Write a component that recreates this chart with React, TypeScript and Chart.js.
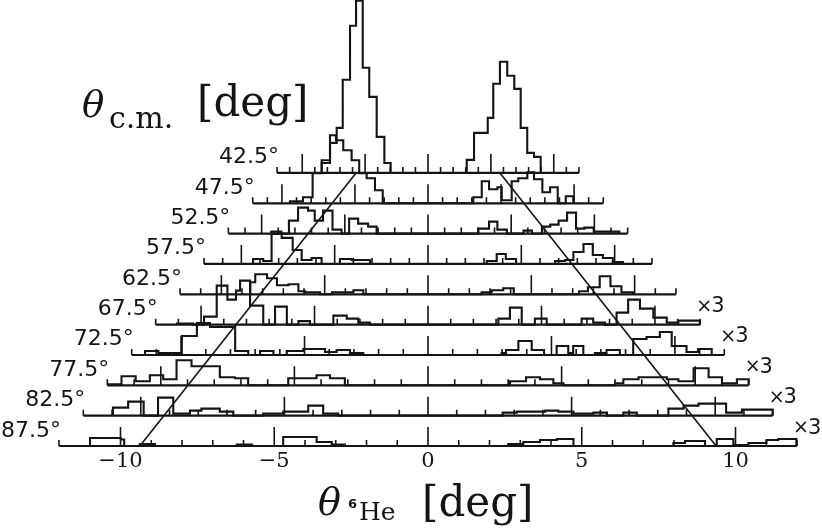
import React, { useEffect, useRef } from "react";
import { Chart, registerables } from "chart.js";

Chart.register(...registerables);

const INK = "#141414";

// Row labels (theta c.m.) from top to bottom
const ROW_LABELS = ["42.5°", "47.5°", "52.5°", "57.5°", "62.5°", "67.5°", "72.5°", "77.5°", "82.5°", "87.5°"];
// horizontal compression of each row relative to the bottom axis
const ROW_SCALE = [0.409, 0.475, 0.541, 0.607, 0.672, 0.738, 0.803, 0.869, 0.934, 1.0];
const ROW_TIMES3 = [false, false, false, false, false, true, true, true, true, true];
const ROW_EXTENT = 12; // each row spans -12..12 deg in its own units
const MAJOR_EVERY = 5;
const X_TICKS = [-10, -5, 0, 5, 10];
// kinematic locus (row-degrees) at the top and bottom rows
const KIN_TOP = 5.72;
const KIN_BOTTOM = 9.37;
const COUNTS_PER_ROW = 30.3;
const Y_MAX = 14.7;
const LONG_TICK = 19;
const SHORT_TICK = 6;

// Histogram bin edges (row-degrees) and counts for each row
const EDGES_425 = [-8.45, -7.79, -7.26, -6.78, -6.2, -5.72, -5.19, -4.67, -4.08, -3.47, -2.97,
  3.08, 3.66, 4.75, 5.19, 5.72, 6.3, 6.86, 7.37, 7.89, 8.43, 8.96];
const COUNTS_425 = [10, 30, 45, 93, 147, 172, 105, 76, 36, 10,
  0,
  13, 40, 55, 89, 111, 97, 84, 45, 20, 16];

const EDGES_475 = [-9.45, -8.56, -7.9, -7.28, -6.71, -6.3, -5.8, -5.23, -4.71, -4.2, -3.63, -3.1,
  3.1, 3.68, 4.18, 4.75, 5.05, 5.73, 6.18, 6.8, 7.26, 7.83, 8.36, 8.88, 9.43, 9.95];
const COUNTS_475 = [2, 6, 30, 43, 68, 63, 53, 43, 30, 25, 13,
  0,
  6, 22, 14, 16, 3, 22, 25, 31, 24, 11, 16, 0, 7];

const EDGES_525 = [-9.42, -8.81, -8.36, -7.81, -7.21, -6.81, -6.31, -5.74, -5.2, -4.74, -4.2, -3.6, -3.09,
  3.03, 3.67, 4.17, 4.74, 5.74, 6.25, 6.85, 7.35, 7.85, 8.36, 8.9, 9.4, 9.96, 10.46, 11.5];
const COUNTS_525 = [2, 0, 13, 26, 23, 13, 23, 4, 0, 15, 10, 7,
  0,
  5, 12, 4, 0, 3, 0, 7, 9, 13, 21, 5, 6, 2, 2];

const EDGES_575 = [-9.37, -8.83, -8.38, -7.84, -7.25, -6.77, -6.24, -5.7, -4.72, -4.09, -3.11,
  3.15, 3.68, 4.17, 4.72, 6.81, 7.35, 7.79, 8.33, 8.83, 9.37, 9.9, 10.44];
const COUNTS_575 = [5, 3, 30, 26, 14, 4, 6, 0, 5, 4,
  0,
  3, 10, 5, 0, 3, 4, 12, 20, 9, 6, 2];

const EDGES_625 = [-8.6, -8.36, -7.79, -7.31, -6.75, -6.27, -5.94, -5.22, -4.65, -3.61, -3.13,
  2.59, 3.08, 3.64, 4.15, 7.31, 7.74, 8.31, 8.83, 9.36, 9.92];
const COUNTS_625 = [12, 20, 16, 9, 10, 3, 2, 0, 2, 4,
  0,
  2, 4, 6, 0, 3, 7, 18, 8, 2];

const EDGES_675 = [-11.06, -10.35, -9.87, -9.31, -8.84, -8.46, -8.28, -7.84, -7.26, -6.74, -6.22, -5.71, -5.2,
  -4.17, -3.58, -3.07, -2.56,
  3.1, 3.61, 4.13, 4.71, 5.23, 6.77, 7.28, 7.8, 8.31, 8.82, 9.34, 9.93, 10.52, 11.03, 11.98];
const COUNTS_675 = [1, 0, 8, 39, 25, 34, 44, 19, 0, 18, 0, 3.5, 0,
  9, 6, 2,
  0,
  6, 17, 0, 6, 0, 6, 2, 0, 12, 25, 16, 7, 2, 4];

const EDGES_725 = [-11.46, -10.92, -9.97, -9.36, -8.83, -7.81, -7.28, -6.8, -6.26,
  -5.72, -5.05, -4.17, -3.7, -3.16, -2.62,
  2.98, 3.16, 3.66, 4.2, 4.7, 5.21, 5.68, 5.88, 6.29, 6.76, 7.23, 7.77,
  8.31, 8.85, 9.39, 9.87, 10.47, 10.94, 11.49];
const COUNTS_725 = [4, 2, 19, 32, 28, 4, 0, 4, 0,
  4, 6, 3, 5, 2,
  0,
  2, 5, 14, 5, 0, 9, 2, 9, 0, 2, 5, 0,
  16, 18, 23, 9, 3, 6];

const EDGES_775 = [-11.97, -11.47, -10.94, -10.41, -9.91, -9.41, -8.85, -7.79, -7.23, -6.73,
  -5.23, -4.17, -3.67, -3.11,
  3.07, 3.67, 4.19, 4.69, 5.07,
  7.0, 7.31, 7.88, 8.94, 9.37, 9.94, 10.5, 11.0, 11.56, 12.0];
const COUNTS_775 = [1, 9, 4, 10, 6, 25, 19, 8, 7,
  0, 7, 10, 7,
  0, 4, 8, 6, 2,
  0, 2, 6, 8, 6, 4, 17, 8, 2, 6];

const EDGES_825 = [-10.97, -10.44, -9.9, -9.4, -8.87, -8.29, -7.89, -7.25, -6.78,
  -5.74, -5.04, -4.17, -3.65, -3.13,
  2.6, 3.09, 4.08, 4.54, 5.06, 5.76, 6.23, 6.8, 7.27,
  8.37, 8.9, 9.42, 10.38, 10.93, 12.0];
const COUNTS_825 = [8, 14, 0, 18, 2, 5, 7, 4,
  0, 2, 4, 10, 2,
  0, 3, 4, 5, 4, 2, 3, 0, 3,
  0, 7, 10, 12, 3, 6];

const EDGES_875 = [-10.99, -9.99, -9.88, -9.37, -8.88, -6.22, -5.72,
  -4.71, -3.62, -3.13, -2.7,
  2.61, 3.1, 3.64, 4.19, 4.73, 7.98, 8.36, 9.01,
  9.39, 9.93, 10.42, 11.01, 11.39, 11.98];
const COUNTS_875 = [8, 6.5, 0, 2, 0, 1.5, 0,
  9, 4, 1.5,
  0,
  2, 4, 6, 7, 0, 3, 5, 0,
  7, 1, 3, 6, 7];

const ROW_EDGES = [EDGES_425, EDGES_475, EDGES_525, EDGES_575, EDGES_625, EDGES_675, EDGES_725, EDGES_775, EDGES_825, EDGES_875];
const ROW_COUNTS = [COUNTS_425, COUNTS_475, COUNTS_525, COUNTS_575, COUNTS_625, COUNTS_675, COUNTS_725, COUNTS_775, COUNTS_825, COUNTS_875];

const NROWS = ROW_LABELS.length;
const PX_PER_UNIT = 446 / Y_MAX;

function histPoints(k: number) {
  const s = ROW_SCALE[k];
  const base = NROWS - 1 - k;
  const e = ROW_EDGES[k];
  const c = ROW_COUNTS[k];
  const pts: { x: number; y: number }[] = [{ x: e[0] * s, y: base }];
  for (let i = 0; i < c.length; i++) {
    const y = base + c[i] / COUNTS_PER_ROW;
    pts.push({ x: e[i] * s, y });
    pts.push({ x: e[i + 1] * s, y });
  }
  pts.push({ x: e[e.length - 1] * s, y: base });
  return pts;
}

function tickPoints(k: number) {
  const s = ROW_SCALE[k];
  const base = NROWS - 1 - k;
  const pts: { x: number; y: number | null }[] = [];
  for (let t = -ROW_EXTENT; t <= ROW_EXTENT; t++) {
    const len = (t % MAJOR_EVERY === 0 ? LONG_TICK : SHORT_TICK) / PX_PER_UNIT;
    pts.push({ x: t * s, y: base });
    pts.push({ x: t * s, y: base + len });
    pts.push({ x: t * s, y: null });
  }
  return pts;
}

const textPlugin = {
  id: "rowText",
  afterDraw(chart: any) {
    const ctx = chart.ctx;
    const xs = chart.scales.x;
    const ys = chart.scales.y;
    ctx.save();
    ctx.fillStyle = INK;
    ctx.textBaseline = "alphabetic";
    ROW_LABELS.forEach((lab, k) => {
      const base = ys.getPixelForValue(NROWS - 1 - k);
      const left = xs.getPixelForValue(-ROW_EXTENT * ROW_SCALE[k]);
      ctx.font = '22px "DejaVu Sans"';
      ctx.textAlign = "right";
      ctx.fillText(lab, left + 2, base - 9.5);
      if (ROW_TIMES3[k]) {
        const right = xs.getPixelForValue(ROW_EXTENT * ROW_SCALE[k]);
        ctx.textAlign = "left";
        ctx.font = '19px "DejaVu Sans"';
        ctx.fillText("×", right - 4, base - 13);
        const w = ctx.measureText("×").width;
        ctx.font = '21px "DejaVu Sans"';
        ctx.fillText("3", right - 5 + w, base - 12.5);
      }
    });
    ctx.textAlign = "left";
    // y title: theta c.m. [deg]
    ctx.font = 'italic 37px "DejaVu Serif"';
    ctx.fillText("θ", 82, 117);
    ctx.font = '30px "DejaVu Serif"';
    ctx.fillText("c.m.", 109, 128);
    ctx.font = '42px "DejaVu Serif"';
    ctx.fillText("[deg]", 197, 115.5);
    // x title: theta 6He [deg]
    ctx.font = 'italic 38px "DejaVu Serif"';
    ctx.fillText("θ", 318, 515);
    ctx.font = 'bold 13px "DejaVu Sans"';
    ctx.fillText("6", 348, 508);
    ctx.font = '25px "DejaVu Serif"';
    ctx.fillText("He", 359, 519.5);
    ctx.font = '42px "DejaVu Serif"';
    ctx.fillText("[deg]", 422, 515.5);
    ctx.restore();
  },
};

export default function App() {
  const ref = useRef<HTMLCanvasElement | null>(null);
  useEffect(() => {
    if (!ref.current) return;
    const datasets: any[] = [];
    const common = {
      borderColor: INK,
      pointRadius: 0,
      pointHoverRadius: 0,
      fill: false,
      tension: 0,
      clip: false,
      spanGaps: false,
    };
    for (let k = 0; k < NROWS; k++) {
      const s = ROW_SCALE[k];
      const base = NROWS - 1 - k;
      datasets.push({ ...common, label: "baseline " + ROW_LABELS[k], data: [{ x: -ROW_EXTENT * s, y: base }, { x: ROW_EXTENT * s, y: base }], borderWidth: 2.2 });
      datasets.push({ ...common, label: "ticks " + ROW_LABELS[k], data: tickPoints(k), borderWidth: 1.6 });
      datasets.push({ ...common, label: ROW_LABELS[k], data: histPoints(k), borderWidth: 2.1 });
    }
    const top = NROWS - 1;
    datasets.push({ ...common, label: "kin left", data: [{ x: -KIN_TOP * ROW_SCALE[0], y: top }, { x: -KIN_BOTTOM * ROW_SCALE[NROWS - 1], y: 0 }], borderWidth: 1.6 });
    datasets.push({ ...common, label: "kin right", data: [{ x: KIN_TOP * ROW_SCALE[0], y: top }, { x: KIN_BOTTOM * ROW_SCALE[NROWS - 1], y: 0 }], borderWidth: 1.6 });

    const chart = new Chart(ref.current, {
      type: "line",
      data: { datasets },
      plugins: [textPlugin],
      options: {
        animation: false,
        responsive: false,
        events: [],
        layout: { padding: { left: 59, right: 25, top: 0, bottom: 55 } },
        plugins: { legend: { display: false }, tooltip: { enabled: false } },
        scales: {
          x: {
            type: "linear",
            min: -ROW_EXTENT,
            max: ROW_EXTENT,
            grid: { display: false, drawTicks: false },
            border: { display: false },
            afterBuildTicks: (sc: any) => {
              sc.ticks = X_TICKS.map((v) => ({ value: v }));
            },
            afterFit: (sc: any) => {
              sc.height = 30;
            },
            ticks: {
              autoSkip: false,
              maxRotation: 0,
              padding: 3,
              color: INK,
              font: { family: "DejaVu Serif", size: 21 },
              callback: (v: any) => (Number(v) < 0 ? "\u2212" + Math.abs(Number(v)) : String(v)),
            },
          },
          y: { type: "linear", min: 0, max: Y_MAX, display: false },
        },
      },
    });
    return () => chart.destroy();
  }, []);
  return (
    <div style={{ position: "fixed", left: 0, top: 0, width: 822, height: 531, background: "#fff" }}>
      <canvas ref={ref} width={822} height={531} style={{ display: "block", width: 822, height: 531 }} />
    </div>
  );
}
